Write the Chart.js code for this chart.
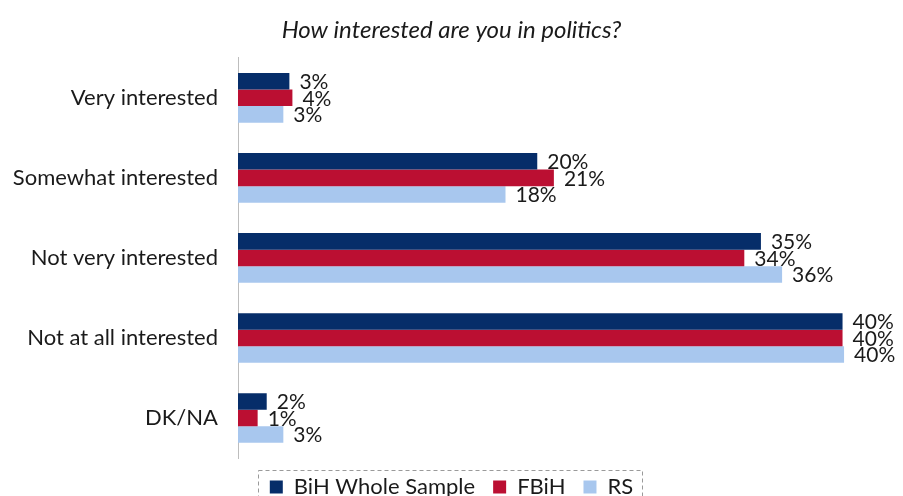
<!DOCTYPE html>
<html>
<head>
<meta charset="utf-8">
<script src="https://cdn.jsdelivr.net/npm/chart.js@4"></script>
<style>
  html, body { margin: 0; padding: 0; background: #fff; }
  #wrap { width: 903px; height: 496px; position: relative; }
</style>
</head>
<body>
<div id="wrap"><canvas id="myChart" width="903" height="496"></canvas></div>
<script>
// answers and shares (%) for each group
const categories = ['Very interested', 'Somewhat interested', 'Not very interested', 'Not at all interested', 'DK/NA'];
const bihWhole = [3.4, 19.8, 34.6, 40.0, 1.9];
const fbih = [3.6, 20.9, 33.5, 40.0, 1.3];
const rs = [3.0, 17.7, 36.0, 40.1, 3.0];
const seriesNames = ['BiH Whole Sample', 'FBiH', 'RS'];
const seriesColors = ['#062d69', '#bb0f32', '#a8c7ee'];

const FONT = 'Lato, "Open Sans", sans-serif';

// writes the rounded percent just past the end of each bar
const valueLabels = {
    id: 'valueLabels',
    afterDatasetsDraw(chart) {
        const ctx = chart.ctx;
        ctx.save();
        ctx.font = '21px ' + FONT;
        ctx.fillStyle = '#1a1a1a';
        ctx.textBaseline = 'middle';
        ctx.textAlign = 'left';
        chart.data.datasets.forEach((ds, i) => {
            chart.getDatasetMeta(i).data.forEach((bar, j) => {
                ctx.fillText(Math.round(ds.data[j]) + '%', bar.x + 10, bar.y + 1);
            });
        });
        ctx.restore();
    }
};

// dashed frame round the legend
const legendFrame = {
    id: 'legendFrame',
    afterDraw(chart) {
        const lg = chart.legend;
        const ctx = chart.ctx;
        ctx.save();
        ctx.strokeStyle = '#9a9a9a';
        ctx.lineWidth = 1;
        ctx.setLineDash([4, 3]);
        ctx.strokeRect(258.5, lg.top + 12.5, 384, 40);
        ctx.restore();
    }
};

const data = {
    labels: categories,
    datasets: [bihWhole, fbih, rs].map((vals, i) => ({
        label: seriesNames[i],
        data: vals,
        backgroundColor: seriesColors[i],
        borderWidth: 0,
        categoryPercentage: 0.62,
        barPercentage: 1.0
    }))
};

const config = {
    type: 'bar',
    data: data,
    options: {
        indexAxis: 'y',
        responsive: false,
        animation: false,
        layout: { padding: { top: 0, right: 0, left: 0, bottom: -12 } },
        scales: {
            x: {
                display: false,
                min: 0,
                max: 44
            },
            y: {
                grid: { display: false },
                border: { display: true, color: '#bdbdbd', width: 1 },
                ticks: {
                    color: '#1a1a1a',
                    font: { family: FONT, size: 22 },
                    padding: 12
                },
                afterFit(scale) { scale.width = 238; }
            }
        },
        plugins: {
            title: {
                display: true,
                text: 'How interested are you in politics?',
                color: '#1a1a1a',
                font: { family: FONT, size: 24, style: 'italic', weight: 'normal' },
                padding: { top: 16, bottom: 13 }
            },
            legend: {
                position: 'bottom',
                labels: {
                    color: '#1a1a1a',
                    font: { family: FONT, size: 22 },
                    boxWidth: 13,
                    boxHeight: 13,
                    padding: 18
                }
            },
            tooltip: { enabled: false }
        }
    },
    plugins: [valueLabels, legendFrame]
};

const myChart = new Chart(document.getElementById('myChart'), config);
</script>
</body>
</html>
